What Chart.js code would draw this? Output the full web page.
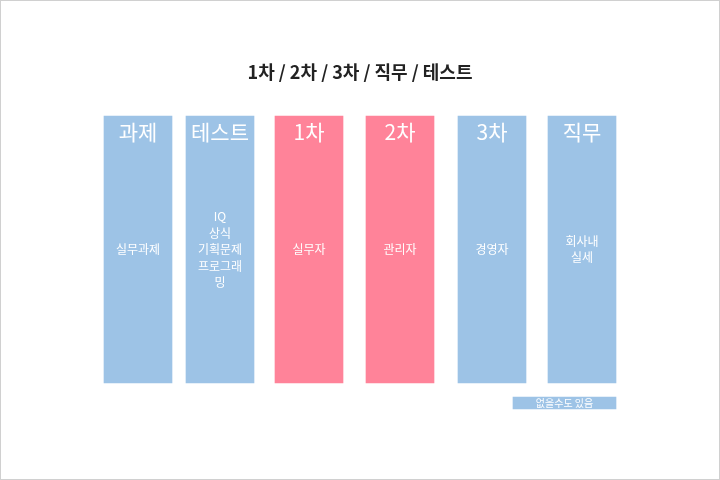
<!DOCTYPE html>
<html>
<head>
<meta charset="utf-8">
<script src="https://cdn.jsdelivr.net/npm/chart.js@4"></script>
<style>
  html, body { margin: 0; padding: 0; background: #fff; }
  #wrap { width: 718px; height: 478px; border: 1px solid #d0d0d0; }
  canvas { display: block; }
</style>
</head>
<body>
<div id="wrap"><canvas id="c" width="718" height="478"></canvas></div>
<script>
// --- data ---
const headers = ['과제', '테스트', '1차', '2차', '3차', '직무'];
const bodies = [['실무과제'], ['IQ', '상식', '기획문제', '프로그래', '밍'], ['실무자'], ['관리자'], ['경영자'], ['회사내', '실세']];
const centers = [137, 219, 308, 399, 491, 581];
const spans = [[115, 382], [115, 382], [115, 382], [115, 382], [115, 382], [115, 382]];
const kinds = ['blue', 'blue', 'pink', 'pink', 'blue', 'blue'];
const titleText = '1차 / 2차 / 3차 / 직무 / 테스트';
const noteText = '없을수도 있음';
const noteCenter = 563.5;
const noteSpan = [396, 408];

const BLUE = '#9dc3e6', PINK = '#ff8399';
const font = '"Noto Sans CJK KR", "Noto Sans", sans-serif';

const textPlugin = {
    id: 'texts',
    afterDatasetsDraw(chart) {
        const ctx = chart.ctx;
        const xs = chart.scales.x, ys = chart.scales.y;
        ctx.save();
        ctx.textAlign = 'center';
        ctx.textBaseline = 'middle';
        // title
        ctx.fillStyle = '#222';
        ctx.font = 'bold 18px ' + font;
        ctx.fillText(titleText, 359, 71);
        headers.forEach(function(h, i) {
            const x = xs.getPixelForValue(centers[i]);
            ctx.fillStyle = '#fff';
            ctx.font = '21px ' + font;
            ctx.fillText(h, x, ys.getPixelForValue(spans[i][0]) + 16);
            ctx.font = '12px ' + font;
            const lines = bodies[i];
            const mid = (ys.getPixelForValue(spans[i][0]) + ys.getPixelForValue(spans[i][1])) / 2;
            lines.forEach(function(l, k) {
                ctx.fillText(l, x, mid + (k - (lines.length - 1) / 2) * 16.5);
            });
        });
        ctx.fillStyle = '#fff';
        ctx.font = '10px ' + font;
        ctx.fillText(noteText, xs.getPixelForValue(noteCenter), (ys.getPixelForValue(noteSpan[0]) + ys.getPixelForValue(noteSpan[1])) / 2);
        ctx.restore();
    }
};

new Chart(document.getElementById('c'), {
    type: 'bar',
    data: {
        datasets: [{
            data: centers.map(function(c, i) { return { x: c, y: spans[i] }; }),
            backgroundColor: kinds.map(function(k) { return k === 'pink' ? PINK : BLUE; }),
            borderWidth: 0,
            barThickness: 68,
            grouped: false
        }, {
            data: [{ x: noteCenter, y: noteSpan }],
            backgroundColor: BLUE,
            borderWidth: 0,
            barThickness: 103,
            grouped: false
        }]
    },
    options: {
        responsive: false,
        animation: false,
        layout: { padding: 0 },
        plugins: { legend: { display: false }, tooltip: { enabled: false } },
        scales: {
            x: { type: 'linear', min: 0, max: 718, offset: false, display: false },
            y: { min: 0, max: 478, reverse: true, display: false }
        }
    },
    plugins: [textPlugin]
});
</script>
</body>
</html>
